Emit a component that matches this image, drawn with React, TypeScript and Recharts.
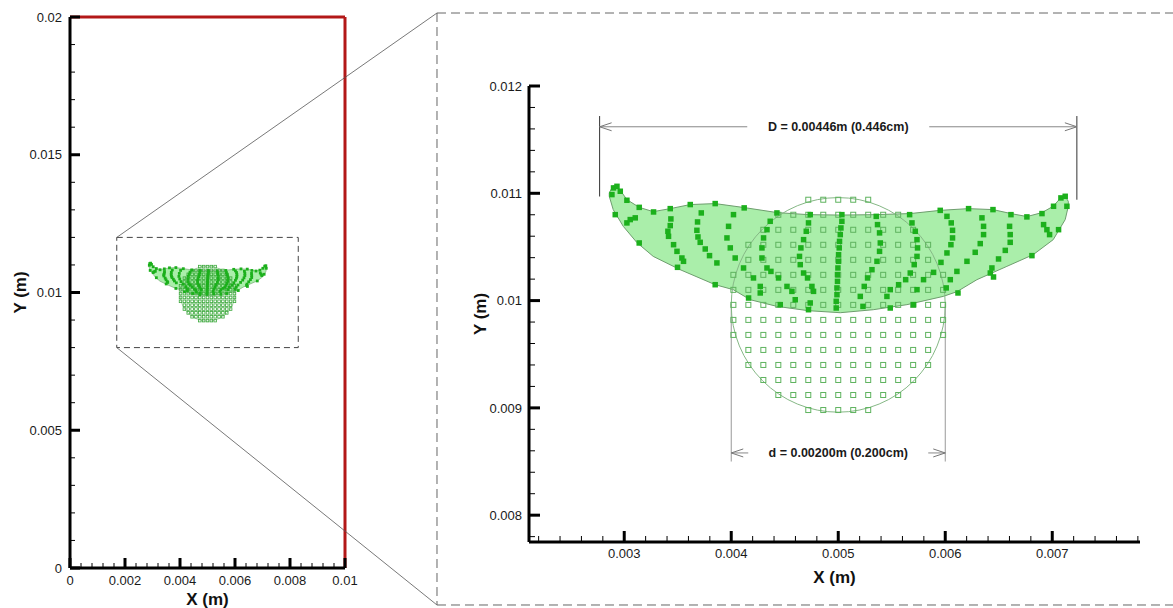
import React from 'react';
import {
  ScatterChart,
  Scatter,
  XAxis,
  YAxis,
  ReferenceLine,
  ReferenceArea,
  ReferenceDot,
} from 'recharts';

type Pt = [number, number];

const FONT = '"Liberation Sans", Arial, Helvetica, sans-serif';

// ---------- axis ticks ----------
const overviewXMajor = [0, 0.002, 0.004, 0.006, 0.008, 0.01];
const overviewXLabels = ['0', '0.002', '0.004', '0.006', '0.008', '0.01'];
const overviewXMinor = [
  0.0004, 0.0008, 0.0012, 0.0016, 0.0024, 0.0028, 0.0032, 0.0036, 0.0044, 0.0048,
  0.0052, 0.0056, 0.0064, 0.0068, 0.0072, 0.0076, 0.0084, 0.0088, 0.0092, 0.0096,
];
const overviewYMajor = [0, 0.005, 0.01, 0.015, 0.02];
const overviewYLabels = ['0', '0.005', '0.01', '0.015', '0.02'];
const overviewYMinor = [
  0.001, 0.002, 0.003, 0.004, 0.006, 0.007, 0.008, 0.009,
  0.011, 0.012, 0.013, 0.014, 0.016, 0.017, 0.018, 0.019,
];

const detailXMajor = [0.003, 0.004, 0.005, 0.006, 0.007];
const detailXLabels = ['0.003', '0.004', '0.005', '0.006', '0.007'];
const detailXMinor = [
  0.0022, 0.0024, 0.0026, 0.0028, 0.0032, 0.0034, 0.0036, 0.0038,
  0.0042, 0.0044, 0.0046, 0.0048, 0.0052, 0.0054, 0.0056, 0.0058,
  0.0062, 0.0064, 0.0066, 0.0068, 0.0072, 0.0074, 0.0076, 0.0078,
];
const detailYMajor = [0.008, 0.009, 0.01, 0.011, 0.012];
const detailYLabels = ['0.008', '0.009', '0.01', '0.011', '0.012'];
const detailYMinor = [
  0.0078, 0.0082, 0.0084, 0.0086, 0.0088, 0.0092, 0.0094, 0.0096, 0.0098,
  0.0102, 0.0104, 0.0106, 0.0108, 0.0112, 0.0114, 0.0116, 0.0118,
];

// ---------- droplet: initial circle and particle lattice ----------
const dropCenter = { x: 0.005, y: 0.00996 };
const dropRadius = 0.001;
const latticeCols = [
  0.00402, 0.00416, 0.0043, 0.00444, 0.00458, 0.00472, 0.00486, 0.005,
  0.00514, 0.00528, 0.00542, 0.00556, 0.0057, 0.00584, 0.00598,
];
const latticeRows = [
  0.00898, 0.00912, 0.00926, 0.0094, 0.00954, 0.00968, 0.00982, 0.00996,
  0.0101, 0.01024, 0.01038, 0.01052, 0.01066, 0.0108, 0.01094,
];
const latticeReach = 0.00102;

// ---------- spread sheet outline ----------
const sheetUpperEdge: Pt[] = [
  [0.00286, 0.011004], [0.002897, 0.011072], [0.002963, 0.011028], [0.003025, 0.010941],
  [0.00314, 0.010869], [0.003271, 0.010829], [0.00343, 0.010857], [0.003617, 0.010895],
  [0.00385, 0.010904], [0.004121, 0.010867], [0.00443, 0.01082], [0.00472, 0.010801],
  [0.005019, 0.010797], [0.005346, 0.010801], [0.005673, 0.010811], [0.005953, 0.010841],
  [0.006215, 0.010857], [0.006446, 0.010848], [0.006614, 0.010811], [0.006764, 0.010783],
  [0.006904, 0.01082], [0.007009, 0.010879], [0.007081, 0.01096], [0.007121, 0.010972],
  [0.00715, 0.010925],
];
const sheetLowerEdge: Pt[] = [
  [0.00715, 0.010879], [0.007121, 0.010755], [0.007009, 0.010568], [0.006822, 0.010428],
  [0.006576, 0.010319], [0.006296, 0.010195], [0.006109, 0.010083], [0.005981, 0.010039],
  [0.005642, 0.009962], [0.005327, 0.009915], [0.005019, 0.009887], [0.00472, 0.009906],
  [0.004427, 0.009946], [0.004178, 0.010008], [0.004019, 0.010102], [0.00385, 0.010148],
  [0.003523, 0.010288], [0.003271, 0.010412], [0.003119, 0.01054], [0.002991, 0.010692],
  [0.002897, 0.010848], [0.00286, 0.010972],
];

// ---------- tracked particles (streaks) ----------
const surfaceLeft: Pt[] = [
  [0.002885, 0.010988], [0.0029, 0.01105], [0.002932, 0.011065], [0.002963, 0.011019],
  [0.003025, 0.010935], [0.00314, 0.010869], [0.003274, 0.010826], [0.00343, 0.010857],
  [0.003617, 0.010895], [0.00385, 0.010904], [0.004121, 0.010864], [0.004427, 0.010817],
];
const tipLeft: Pt[] = [
  [0.002916, 0.010801], [0.003025, 0.010724], [0.003056, 0.010755], [0.003103, 0.010771],
  [0.00314, 0.010537],
];
const streakA: Pt[] = [
  [0.003436, 0.010761], [0.00343, 0.010699], [0.003408, 0.010646], [0.003414, 0.010599],
  [0.003461, 0.010521], [0.003493, 0.010459], [0.003539, 0.010397], [0.003554, 0.010366],
  [0.003498, 0.01031],
];
const streakB: Pt[] = [
  [0.00372, 0.010817], [0.003685, 0.010733], [0.003679, 0.010655], [0.003689, 0.010593],
  [0.00371, 0.010543], [0.003757, 0.010481], [0.003797, 0.010419], [0.003866, 0.010351],
  [0.00385, 0.010148],
];
const streakC: Pt[] = [
  [0.004021, 0.010801], [0.003975, 0.010692], [0.00396, 0.010584], [0.003991, 0.010491],
  [0.004037, 0.010397], [0.004115, 0.010304], [0.004208, 0.010211], [0.004271, 0.010132],
  [0.004271, 0.010071], [0.004162, 0.010024],
];
const streakD: Pt[] = [
  [0.004364, 0.010739], [0.004334, 0.010661], [0.004302, 0.010584], [0.004287, 0.010491],
  [0.004287, 0.010397], [0.004334, 0.010304], [0.004371, 0.010272], [0.004442, 0.010211],
  [0.004521, 0.010132], [0.004567, 0.010086], [0.004598, 0.010008], [0.004458, 0.009962],
];
const streakE: Pt[] = [
  [0.004738, 0.010801], [0.004722, 0.010724], [0.004701, 0.010646], [0.004676, 0.010568],
  [0.004651, 0.010491], [0.004638, 0.010412], [0.004645, 0.010335], [0.004676, 0.010257],
  [0.004713, 0.010211], [0.004754, 0.010132], [0.004769, 0.010086], [0.004738, 0.009978],
  [0.004722, 0.009915],
];
const streakMid: Pt[] = [
  [0.005034, 0.010801], [0.005034, 0.010739], [0.005025, 0.010677], [0.005019, 0.010615],
  [0.005012, 0.010552], [0.005009, 0.010491], [0.005003, 0.010428], [0.005003, 0.010366],
  [0.004997, 0.010304], [0.004993, 0.010242], [0.004993, 0.010179], [0.004988, 0.010118],
  [0.004988, 0.010055], [0.004981, 0.009993], [0.004981, 0.009931],
];
const streakF: Pt[] = [
  [0.005355, 0.010785], [0.005367, 0.010708], [0.005386, 0.010631], [0.005393, 0.010537],
  [0.005386, 0.010459], [0.005362, 0.010366], [0.005315, 0.010288], [0.005274, 0.010211],
  [0.005243, 0.010132], [0.005206, 0.010039], [0.005231, 0.009946],
];
const streakG: Pt[] = [
  [0.005667, 0.010801], [0.005689, 0.010724], [0.00572, 0.010646], [0.005736, 0.010568],
  [0.005741, 0.010491], [0.005736, 0.010412], [0.00571, 0.010335], [0.005673, 0.010257],
  [0.00563, 0.010195], [0.005564, 0.010148], [0.005486, 0.010102], [0.005455, 0.010039],
  [0.005486, 0.009931],
];
const streakH: Pt[] = [
  [0.006016, 0.010785], [0.006056, 0.010724], [0.006068, 0.010655], [0.006068, 0.010584],
  [0.006053, 0.010521], [0.006016, 0.010444], [0.00596, 0.010356], [0.005891, 0.010263],
  [0.005797, 0.010195], [0.005736, 0.010102], [0.005704, 0.009962],
];
const streakI: Pt[] = [
  [0.006343, 0.010771], [0.006358, 0.010692], [0.006358, 0.010615], [0.006327, 0.010531],
  [0.00628, 0.01045], [0.006203, 0.010366], [0.006109, 0.010272], [0.006047, 0.010195],
  [0.006009, 0.010118], [0.006119, 0.010071],
];
const streakJ: Pt[] = [
  [0.006614, 0.010801], [0.006601, 0.010692], [0.006607, 0.010615], [0.006607, 0.010543],
  [0.006561, 0.010468], [0.006498, 0.010388], [0.006436, 0.010304], [0.006421, 0.010257],
  [0.006451, 0.01022],
];
const surfaceRight: Pt[] = [
  [0.005953, 0.010841], [0.006218, 0.010857], [0.006446, 0.010848], [0.006763, 0.01078],
  [0.006904, 0.010811], [0.007012, 0.010879], [0.007081, 0.010957], [0.007121, 0.010972],
  [0.007137, 0.010879],
];
const tipRight: Pt[] = [
  [0.006919, 0.010708], [0.00695, 0.010661], [0.006975, 0.010615], [0.007059, 0.010661],
  [0.00681, 0.010419],
];

// ---------- dimension annotations ----------
const spreadDiameter = 0.00446;
const dropDiameter = 0.002;
const spreadLineY = 0.01162;
const spreadTickTop = 0.01172;
const spreadTipY: Pt = [0.01097, 0.01094];
const dropLineY = 0.00858;
const dropTickTop = 0.00997;
const dropTickBottom = 0.0085;

// ---------- zoom callout (overview data units) ----------
const calloutBox = { x1: 0.0017, x2: 0.0083, y1: 0.008, y2: 0.012 };
const calloutPanel = { left: 0.013345, right: 0.0402, top: 0.020145, bottom: -0.001343 };

// ---------- derived series ----------
const toXY = ([x, y]: Pt) => ({ x, y });
const sheetOutline = [...sheetUpperEdge, ...sheetLowerEdge].map(toXY);
const particles = [
  surfaceLeft, tipLeft, streakA, streakB, streakC, streakD, streakE, streakMid,
  streakF, streakG, streakH, streakI, streakJ, surfaceRight, tipRight,
].flat().map(toXY);
const lattice = latticeRows.flatMap((y) =>
  latticeCols
    .filter((x) => Math.hypot(x - dropCenter.x, y - dropCenter.y) <= latticeReach)
    .map((x) => ({ x, y }))
);
const circleExtremes = [
  { x: dropCenter.x - dropRadius, y: dropCenter.y },
  { x: dropCenter.x + dropRadius, y: dropCenter.y },
  { x: dropCenter.x, y: dropCenter.y + dropRadius },
  { x: dropCenter.x, y: dropCenter.y - dropRadius },
];
const spreadLeft = dropCenter.x - spreadDiameter / 2;
const spreadRight = dropCenter.x + spreadDiameter / 2;
const dropLeft = dropCenter.x - dropDiameter / 2;
const dropRight = dropCenter.x + dropDiameter / 2;
const spreadText = `D = ${spreadDiameter.toFixed(5)}m (${(spreadDiameter * 100).toFixed(3)}cm)`;
const dropText = `d = ${dropDiameter.toFixed(5)}m (${(dropDiameter * 100).toFixed(3)}cm)`;

// ---------- renderers ----------
const validPts = (props: any) =>
  ((props && props.points) || []).filter((p: any) => p && p.x != null && p.y != null);

const polygonLine = (fill: string, stroke: string, sw: number) => (props: any) => {
  const pts = validPts(props);
  if (!pts.length) return <g />;
  const d = pts.map((p: any, i: number) => `${i ? 'L' : 'M'}${p.x},${p.y}`).join('') + 'Z';
  return <path d={d} fill={fill} stroke={stroke} strokeWidth={sw} strokeLinejoin="round" />;
};

const ringLine = (stroke: string, sw: number, fill: string) => (props: any) => {
  const pts = validPts(props);
  if (!pts.length) return <g />;
  const xs = pts.map((p: any) => p.x);
  const ys = pts.map((p: any) => p.y);
  const l = Math.min(...xs);
  const r = Math.max(...xs);
  const t = Math.min(...ys);
  const b = Math.max(...ys);
  return (
    <ellipse cx={(l + r) / 2} cy={(t + b) / 2} rx={(r - l) / 2} ry={(b - t) / 2}
      fill={fill} stroke={stroke} strokeWidth={sw} />
  );
};

const squareShape = (s: number, fill: string, stroke: string, sw: number) => (p: any) => (
  <rect x={p.cx - s / 2} y={p.cy - s / 2} width={s} height={s} fill={fill} stroke={stroke} strokeWidth={sw} />
);

const noShape = () => <g />;

function axisTick(
  kind: 'x' | 'y', majors: number[], labels: string[],
  majorLen: number, minorLen: number, gap: number
) {
  return (props: any) => {
    const { x, y, payload } = props;
    const v = Number(payload && payload.value);
    const i = majors.findIndex((m) => Math.abs(m - v) < 1e-9);
    const major = i >= 0;
    const len = major ? majorLen : minorLen;
    if (kind === 'x') {
      return (
        <g>
          <line x1={x} x2={x} y1={y} y2={y - len} stroke="#000" strokeWidth={major ? 3 : 1} />
          {major && (
            <text x={x} y={y + gap} textAnchor="middle" fontSize={13} fill="#1a1a1a" fontFamily={FONT}>
              {labels[i]}
            </text>
          )}
        </g>
      );
    }
    return (
      <g>
        <line x1={x} x2={x + len} y1={y} y2={y} stroke="#000" strokeWidth={major ? 3 : 1} />
        {major && (
          <text x={x - gap} y={y} dy="0.36em" textAnchor="end" fontSize={13} fill="#1a1a1a" fontFamily={FONT}>
            {labels[i]}
          </text>
        )}
      </g>
    );
  };
}

const xTitle = (dy: number) => (props: any) => {
  const vb = props.viewBox || {};
  return (
    <text x={vb.x + vb.width / 2} y={vb.y + dy} textAnchor="middle" fontSize={17}
      fontWeight="bold" fill="#111" fontFamily={FONT}>X (m)</text>
  );
};

const yTitle = (dx: number) => (props: any) => {
  const vb = props.viewBox || {};
  const cx = vb.x + dx;
  const cy = vb.y + vb.height / 2;
  return (
    <text x={cx} y={cy} transform={`rotate(-90, ${cx}, ${cy})`} textAnchor="middle"
      dominantBaseline="central" fontSize={17} fontWeight="bold" fill="#111" fontFamily={FONT}>Y (m)</text>
  );
};

function dropLayers(
  tag: string, solid: number, hollow: number, hollowStroke: number,
  hollowColor: string, lineW: number
) {
  return [
    <Scatter key={`${tag}-sheet`} data={sheetOutline} isAnimationActive={false}
      shape={noShape} line={polygonLine('#aaeeaa', '#6e9e6e', lineW)} />,
    <Scatter key={`${tag}-ring`} data={circleExtremes} isAnimationActive={false}
      shape={noShape} line={ringLine('#86b886', lineW, 'none')} />,
    <Scatter key={`${tag}-lattice`} data={lattice} isAnimationActive={false}
      shape={squareShape(hollow, 'none', hollowColor, hollowStroke)} />,
    <Scatter key={`${tag}-particles`} data={particles} isAnimationActive={false}
      shape={squareShape(solid, '#1cb01c', 'none', 0)} />,
  ];
}

const chevron = (dir: 'left' | 'right', color: string) => (p: any) => {
  const s = dir === 'left' ? 1 : -1;
  return (
    <path d={`M${p.cx + s * 12},${p.cy - 4}L${p.cx},${p.cy}L${p.cx + s * 12},${p.cy + 4}`}
      fill="none" stroke={color} strokeWidth={1} />
  );
};

const boxedText = (text: string, w: number) => (p: any) => (
  <g>
    <rect x={p.cx - w / 2} y={p.cy - 8} width={w} height={16} fill="#fff" />
    <text x={p.cx} y={p.cy} dy="0.36em" textAnchor="middle" fontSize={12.5} fontWeight="bold"
      fill="#1a1a1a" fontFamily={FONT}>{text}</text>
  </g>
);

function OverviewChart() {
  const ticksX = [...overviewXMajor, ...overviewXMinor].sort((a, b) => a - b);
  const ticksY = [...overviewYMajor, ...overviewYMinor].sort((a, b) => a - b);
  return (
    <ScatterChart width={1173} height={608} margin={{ top: 17, right: 828, bottom: 0, left: 10 }}>
      <XAxis type="number" dataKey="x" domain={[0, 0.01]} allowDataOverflow ticks={ticksX}
        interval={0} tickSize={0} tickMargin={0} height={40} tickLine={false}
        axisLine={{ stroke: '#000', strokeWidth: 3 }}
        tick={axisTick('x', overviewXMajor, overviewXLabels, 10, 5, 17)}
        label={{ content: xTitle(37) }} />
      <YAxis type="number" dataKey="y" domain={[0, 0.02]} allowDataOverflow ticks={ticksY}
        interval={0} tickSize={0} tickMargin={0} width={60} tickLine={false}
        axisLine={{ stroke: '#000', strokeWidth: 3 }}
        tick={axisTick('y', overviewYMajor, overviewYLabels, 10, 5, 8)}
        label={{ content: yTitle(10) }} />
      <ReferenceLine y={0.02} stroke="#b31818" strokeWidth={3} />
      <ReferenceLine x={0.01} stroke="#b31818" strokeWidth={3} />
      <ReferenceArea x1={calloutBox.x1} x2={calloutBox.x2} y1={calloutBox.y1} y2={calloutBox.y2}
        fill="none" fillOpacity={0} stroke="#444" strokeWidth={1} strokeDasharray="6 4" />
      <ReferenceLine ifOverflow="visible" stroke="#555" strokeWidth={0.8}
        segment={[{ x: calloutBox.x1, y: calloutBox.y2 }, { x: calloutPanel.left, y: calloutPanel.top }]} />
      <ReferenceLine ifOverflow="visible" stroke="#555" strokeWidth={0.8}
        segment={[{ x: calloutBox.x1, y: calloutBox.y1 }, { x: calloutPanel.left, y: calloutPanel.bottom }]} />
      <ReferenceLine ifOverflow="visible" stroke="#666" strokeWidth={1} strokeDasharray="9 5"
        segment={[{ x: calloutPanel.left, y: calloutPanel.top }, { x: calloutPanel.right, y: calloutPanel.top }]} />
      <ReferenceLine ifOverflow="visible" stroke="#666" strokeWidth={1} strokeDasharray="9 5"
        segment={[{ x: calloutPanel.left, y: calloutPanel.top }, { x: calloutPanel.left, y: calloutPanel.bottom }]} />
      <ReferenceLine ifOverflow="visible" stroke="#666" strokeWidth={1} strokeDasharray="9 5"
        segment={[{ x: calloutPanel.left, y: calloutPanel.bottom }, { x: calloutPanel.right, y: calloutPanel.bottom }]} />
      {dropLayers('ov', 2.8, 2.6, 0.8, '#3aa83a', 0.6)}
    </ScatterChart>
  );
}

function DetailChart() {
  const ticksX = [...detailXMajor, ...detailXMinor].sort((a, b) => a - b);
  const ticksY = [...detailYMajor, ...detailYMinor].sort((a, b) => a - b);
  return (
    <ScatterChart width={1173} height={608} margin={{ top: 86, right: 33, bottom: 26, left: 469 }}>
      <XAxis type="number" dataKey="x" domain={[0.00211, 0.00782]} allowDataOverflow ticks={ticksX}
        interval={0} tickSize={0} tickMargin={0} height={40} tickLine={false}
        axisLine={{ stroke: '#000', strokeWidth: 3 }}
        tick={axisTick('x', detailXMajor, detailXLabels, 11, 6, 16)}
        label={{ content: xTitle(41) }} />
      <YAxis type="number" dataKey="y" domain={[0.00775, 0.012]} allowDataOverflow ticks={ticksY}
        interval={0} tickSize={0} tickMargin={0} width={60} tickLine={false}
        axisLine={{ stroke: '#000', strokeWidth: 3 }}
        tick={axisTick('y', detailYMajor, detailYLabels, 11, 6, 7)}
        label={{ content: yTitle(11) }} />
      {dropLayers('dt', 5.5, 5, 1, '#5fb35f', 1)}

      {/* spread diameter D */}
      <ReferenceLine stroke="#333" strokeWidth={1}
        segment={[{ x: spreadLeft, y: spreadTipY[0] }, { x: spreadLeft, y: spreadTickTop }]} />
      <ReferenceLine stroke="#333" strokeWidth={1}
        segment={[{ x: spreadRight, y: spreadTipY[1] }, { x: spreadRight, y: spreadTickTop }]} />
      <ReferenceLine stroke="#888" strokeWidth={1}
        segment={[{ x: spreadLeft, y: spreadLineY }, { x: spreadRight, y: spreadLineY }]} />
      <ReferenceDot x={spreadLeft} y={spreadLineY} shape={chevron('left', '#777')} />
      <ReferenceDot x={spreadRight} y={spreadLineY} shape={chevron('right', '#777')} />
      <ReferenceDot x={dropCenter.x} y={spreadLineY} shape={boxedText(spreadText, 182)} />

      {/* initial diameter d */}
      <ReferenceLine stroke="#999" strokeWidth={1}
        segment={[{ x: dropLeft, y: dropTickTop }, { x: dropLeft, y: dropTickBottom }]} />
      <ReferenceLine stroke="#999" strokeWidth={1}
        segment={[{ x: dropRight, y: dropTickTop }, { x: dropRight, y: dropTickBottom }]} />
      <ReferenceLine stroke="#888" strokeWidth={1}
        segment={[{ x: dropLeft, y: dropLineY }, { x: dropRight, y: dropLineY }]} />
      <ReferenceDot x={dropLeft} y={dropLineY} shape={chevron('left', '#777')} />
      <ReferenceDot x={dropRight} y={dropLineY} shape={chevron('right', '#777')} />
      <ReferenceDot x={dropCenter.x} y={dropLineY} shape={boxedText(dropText, 180)} />
    </ScatterChart>
  );
}

export default function App() {
  return (
    <div style={{ position: 'absolute', left: 0, top: 0, width: 1173, height: 608, background: '#fff', fontFamily: FONT }}>
      <div style={{ position: 'absolute', left: 0, top: 0 }}>
        <OverviewChart />
      </div>
      <div style={{ position: 'absolute', left: 0, top: 0 }}>
        <DetailChart />
      </div>
    </div>
  );
}
